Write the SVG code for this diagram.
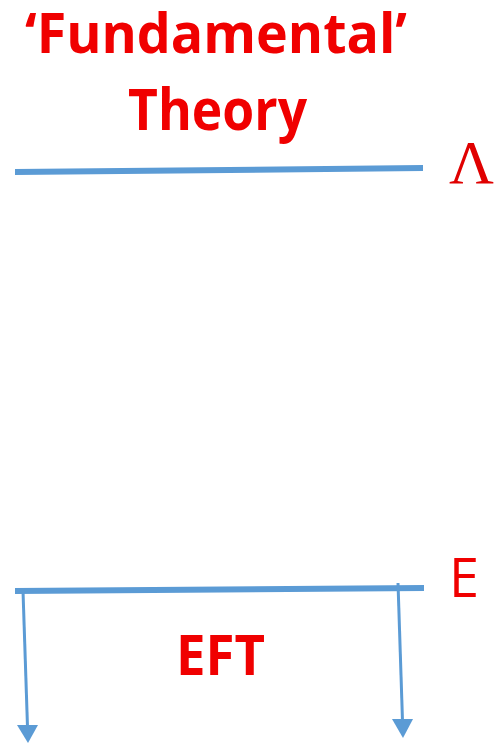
<svg xmlns="http://www.w3.org/2000/svg" width="500" height="745" viewBox="0 0 500 745">
<style>
.t{fill:#f00000;font-family:"Open Sans","Liberation Sans",sans-serif;font-weight:bold}
.r{fill:#f00000;font-family:"Open Sans","Liberation Sans",sans-serif}
.s{fill:#e00000;font-family:"Liberation Serif",serif}
.l{stroke:#5b9bd5;stroke-width:6;fill:none}
.a{stroke:#5b9bd5;stroke-width:3;fill:none}
.h{fill:#5b9bd5}
</style>
<rect width="500" height="745" fill="#fff"/>
<g id="fundamental">
<text class="t" x="25" y="53" font-size="56" textLength="382" lengthAdjust="spacingAndGlyphs">‘Fundamental’</text>
<text class="t" x="128" y="130" font-size="58" textLength="179" lengthAdjust="spacingAndGlyphs">Theory</text>
</g>
<g id="lambda"><text class="s" x="449" y="183" font-size="62">Λ</text></g>
<g id="e"><text class="r" x="449" y="597" font-size="54">E</text></g>
<g id="eft"><text class="t" x="176" y="675" font-size="56" textLength="89" lengthAdjust="spacingAndGlyphs">EFT</text></g>
<g id="connectors">
<line class="l" x1="15" y1="172" x2="423" y2="168"/>
<line class="l" x1="15" y1="591" x2="424" y2="588"/>
<line class="a" x1="23" y1="591" x2="27.5" y2="727"/>
<polygon class="h" points="17,725 38,725 28,743"/>
<line class="a" x1="398" y1="583" x2="402.5" y2="721"/>
<polygon class="h" points="392,719 413,719 403,738"/>
</g>
</svg>
